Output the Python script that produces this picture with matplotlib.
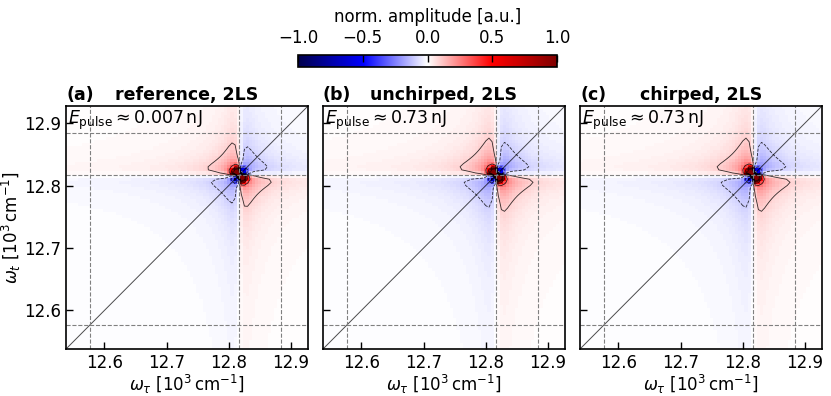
import numpy as np
import matplotlib
matplotlib.use('Agg')
import matplotlib.pyplot as plt

# Panel texts
panel_labels = ['(a)', '(b)', '(c)']
panel_titles = ['reference, 2LS', 'unchirped, 2LS', 'chirped, 2LS']
pulse_energy = ['0.007', '0.73', '0.73']

# Peak parameters (10^3 cm^-1)
peak_center = [12.8175, 12.8175, 12.8175]
# broad component (gives the faint stripes and the petals)
broad_width = [0.011, 0.012, 0.012]
broad_scale = [0.22, 0.23, 0.23]
# narrow component (saturated centre)
core_width = [0.005, 0.005, 0.005]
core_scale = [1.8, 1.8, 1.8]
core_extent = [0.008, 0.008, 0.008]
cross_weight = 3.8

# Guide lines and axis range (10^3 cm^-1)
guide_lines = [12.577, 12.817, 12.885]
axis_range = [12.538, 12.928]
ticks = [12.6, 12.7, 12.8, 12.9]
grid_step = 0.005  # sampling of the spectra

contour_levels = [-0.6, -0.3, -0.09, 0.09, 0.3, 0.5, 0.7, 0.9]


def lineshape(x, y, g, b):
    return g**2 * (g**2 - b * x * y) / ((x**2 + g**2) * (y**2 + g**2))


fig = plt.figure(figsize=(8.31, 3.96), dpi=100)

w = np.arange(axis_range[0] + grid_step / 2, axis_range[1], grid_step)
WT, WS = np.meshgrid(w, w)  # WT -> x (omega_tau), WS -> y (omega_t)

lefts = [66 / 831, 323 / 831, 580 / 831]
for i in range(3):
    ax = fig.add_axes([lefts[i], 47 / 396, 242 / 831, 243 / 396])

    x = WT - peak_center[i]
    y = WS - peak_center[i]
    env = np.exp(-(x**2 + y**2) / (2 * core_extent[i]**2))
    spec = (broad_scale[i] * lineshape(x, y, broad_width[i], cross_weight)
            + core_scale[i] * env * lineshape(x, y, core_width[i], 4.0))

    im = ax.pcolormesh(w, w, spec, cmap='seismic', vmin=-1, vmax=1, shading='nearest')
    ax.contour(w, w, spec, levels=contour_levels, colors='k', linewidths=0.6, alpha=0.8)

    ax.plot(axis_range, axis_range, color='k', lw=0.7, alpha=0.7)
    for gl in guide_lines:
        ax.axvline(gl, color='gray', ls='--', lw=0.8)
        ax.axhline(gl, color='gray', ls='--', lw=0.8)

    ax.set_xlim(axis_range)
    ax.set_ylim(axis_range)
    ax.set_xticks(ticks)
    ax.set_yticks(ticks)
    ax.tick_params(direction='in', length=5, width=1, labelsize=12)
    for sp in ax.spines.values():
        sp.set_linewidth(1.2)

    ax.text(0.01, 0.99, r'$E_\mathrm{pulse} \approx ' + pulse_energy[i] + r'\,\mathrm{nJ}$',
            transform=ax.transAxes, ha='left', va='top', fontsize=12.5)

    ax.set_title(panel_labels[i], loc='left', fontweight='bold', fontsize=12.5, pad=4)
    ax.set_title(panel_titles[i], fontweight='bold', fontsize=12.5, pad=4)
    ax.set_xlabel(r'$\omega_\tau$ [$10^3\,\mathrm{cm}^{-1}$]', fontsize=12, labelpad=1)
    if i == 0:
        ax.set_ylabel(r'$\omega_t$ [$10^3\,\mathrm{cm}^{-1}$]', fontsize=12, labelpad=1)
    else:
        ax.set_yticklabels([])

# Colorbar on top
cax = fig.add_axes([298 / 831, 329 / 396, 259 / 831, 12 / 396])
cb = fig.colorbar(im, cax=cax, orientation='horizontal', ticks=[-1, -0.5, 0, 0.5, 1])
cax.xaxis.set_ticks_position('top')
cax.xaxis.set_label_position('top')
cax.tick_params(direction='in', length=5, width=1, labelsize=12, pad=6)
cb.set_label('norm. amplitude [a.u.]', fontsize=12, labelpad=5)
cb.outline.set_linewidth(1.2)

fig.savefig('out.png', dpi=100)
